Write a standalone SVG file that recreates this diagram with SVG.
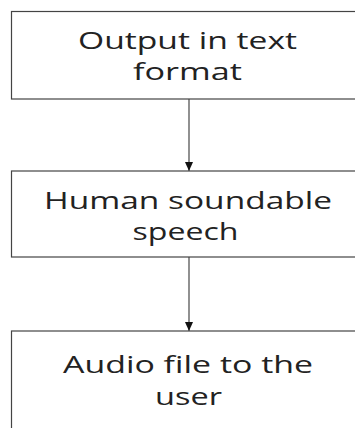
<svg xmlns="http://www.w3.org/2000/svg" width="355" height="428" viewBox="0 0 355 428">
<defs>
<style>
.box{fill:#fff;stroke:#444;stroke-width:1.2}
.lbl{font-family:"Open Sans","DejaVu Sans",sans-serif;font-size:24px;fill:#222;text-anchor:middle}
.con{stroke:#555;stroke-width:1.3;fill:none}
</style>
<marker id="ah" markerWidth="9" markerHeight="8" refX="9" refY="4" orient="auto" markerUnits="userSpaceOnUse">
<path d="M0,0 L9,4 L0,8 Z" fill="#111"/>
</marker>
</defs>
<rect width="355" height="428" fill="#fff"/>
<g id="connectors">
<line class="con" x1="189" y1="99" x2="189" y2="171" marker-end="url(#ah)"/>
<line class="con" x1="189" y1="257" x2="189" y2="331" marker-end="url(#ah)"/>
</g>
<g id="node1">
<rect class="box" x="11.5" y="11.5" width="360" height="87.5"/>
<text class="lbl" x="187.5" y="49" textLength="219" lengthAdjust="spacingAndGlyphs">Output in text</text>
<text class="lbl" x="187.5" y="80" textLength="109" lengthAdjust="spacingAndGlyphs">format</text>
</g>
<g id="node2">
<rect class="box" x="11.5" y="171" width="360" height="86"/>
<text class="lbl" x="188" y="209" textLength="288" lengthAdjust="spacingAndGlyphs">Human soundable</text>
<text class="lbl" x="185.5" y="240" textLength="106" lengthAdjust="spacingAndGlyphs">speech</text>
</g>
<g id="node3">
<rect class="box" x="11.5" y="331" width="360" height="120"/>
<text class="lbl" x="188" y="373" textLength="250" lengthAdjust="spacingAndGlyphs">Audio file to the</text>
<text class="lbl" x="188.5" y="405" textLength="67" lengthAdjust="spacingAndGlyphs">user</text>
</g>
</svg>
